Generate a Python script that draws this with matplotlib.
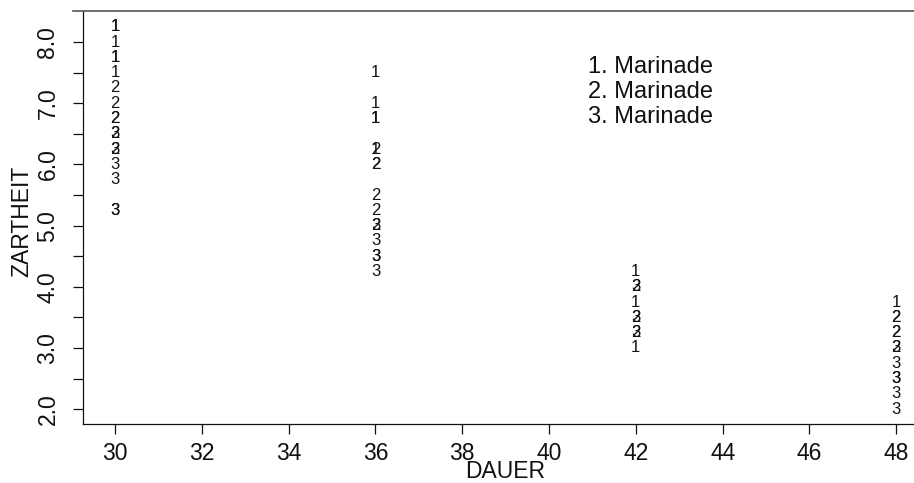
import numpy as np
import matplotlib as mpl
import matplotlib.pyplot as plt
from matplotlib.lines import Line2D

mpl.use('Agg')
plt.rcParams['font.family'] = ['Liberation Sans', 'DejaVu Sans']

# DAUER (cooking time) and ZARTHEIT (tenderness), one pair of lists per marinade
dauer_m1 = [30, 30, 30, 30, 30, 30, 36, 36, 36, 36, 36, 42, 42, 42, 48]
zart_m1 = [8.25, 8.25, 8.0, 7.75, 7.75, 7.5, 7.5, 7.0, 6.75, 6.75, 6.25, 4.25, 3.75, 3.0, 3.75]

dauer_m2 = [30, 30, 30, 30, 30, 30, 36, 36, 36, 36, 36, 36, 42, 42, 42, 48, 48, 48, 48, 48]
zart_m2 = [7.25, 7.0, 6.75, 6.75, 6.5, 6.25, 6.25, 6.0, 6.0, 5.5, 5.25, 5.0, 4.0, 3.5, 3.25,
           3.5, 3.5, 3.25, 3.25, 3.0]

dauer_m3 = [30, 30, 30, 30, 30, 30, 36, 36, 36, 36, 36, 42, 42, 42, 48, 48, 48, 48, 48, 48]
zart_m3 = [6.5, 6.25, 6.0, 5.75, 5.25, 5.25, 5.0, 4.75, 4.5, 4.5, 4.25, 4.0, 3.5, 3.25,
           3.0, 2.75, 2.5, 2.5, 2.25, 2.0]

legend_labels = ["1. Marinade", "2. Marinade", "3. Marinade"]
x_ticks = [30, 32, 34, 36, 38, 40, 42, 44, 46, 48]
y_ticks = [2.0, 2.5, 3.0, 3.5, 4.0, 4.5, 5.0, 5.5, 6.0, 6.5, 7.0, 7.5, 8.0]

W, H = 914, 483
fig = plt.figure(figsize=(W / 100, H / 100), dpi=100)
ax = fig.add_axes([83 / W, 1 - 424 / H, 1 - 83 / W, (424 - 11) / H])

# marinade number drawn as the plotting symbol
for label, xs, ys in [("1", dauer_m1, zart_m1), ("2", dauer_m2, zart_m2), ("3", dauer_m3, zart_m3)]:
    for x, y in zip(xs, ys):
        ax.text(x, y, label, ha='center', va='center', fontsize=12, color='#111111')

# legend as plain text lines
for i, lab in enumerate(legend_labels):
    ax.text(40.9, 7.59 - i * 0.41, lab, ha='left', va='center', fontsize=17, color='#111111')

ax.set_xlim(29.26, 48.41)
ax.set_ylim(1.758, 8.507)

ax.set_xticks(x_ticks)
ax.set_xticklabels([str(t) for t in x_ticks])
ax.set_yticks(y_ticks)
ax.set_yticklabels([f"{t:.1f}" if t == int(t) else "" for t in y_ticks], rotation=90, va='center')

ax.tick_params(axis='both', direction='out', length=7, width=0.9, labelsize=16.5, colors='#111111')
ax.tick_params(axis='x', pad=6)
ax.tick_params(axis='y', pad=10)

for side in ['right', 'top']:
    ax.spines[side].set_visible(False)
for side in ['left', 'bottom']:
    ax.spines[side].set_linewidth(0.9)
    ax.spines[side].set_color('#111111')

# top border of the original frame, running a bit past the left axis
fig.add_artist(Line2D([73 / W, 1.0], [1 - 11 / H, 1 - 11 / H], transform=fig.transFigure,
                      color='#555555', linewidth=1.2))

ax.set_xlabel("DAUER", fontsize=16.5, color='#111111')
ax.xaxis.set_label_coords((505 - 83) / (W - 83), -(472 - 424) / (424 - 11), transform=ax.transAxes)
ax.xaxis.label.set_va('center')
ax.set_ylabel("ZARTHEIT", fontsize=16.5, color='#111111')
ax.yaxis.set_label_coords(-(83 - 22) / (W - 83), 0.49, transform=ax.transAxes)
ax.yaxis.label.set_va('center')

fig.savefig("out.png", dpi=100)
